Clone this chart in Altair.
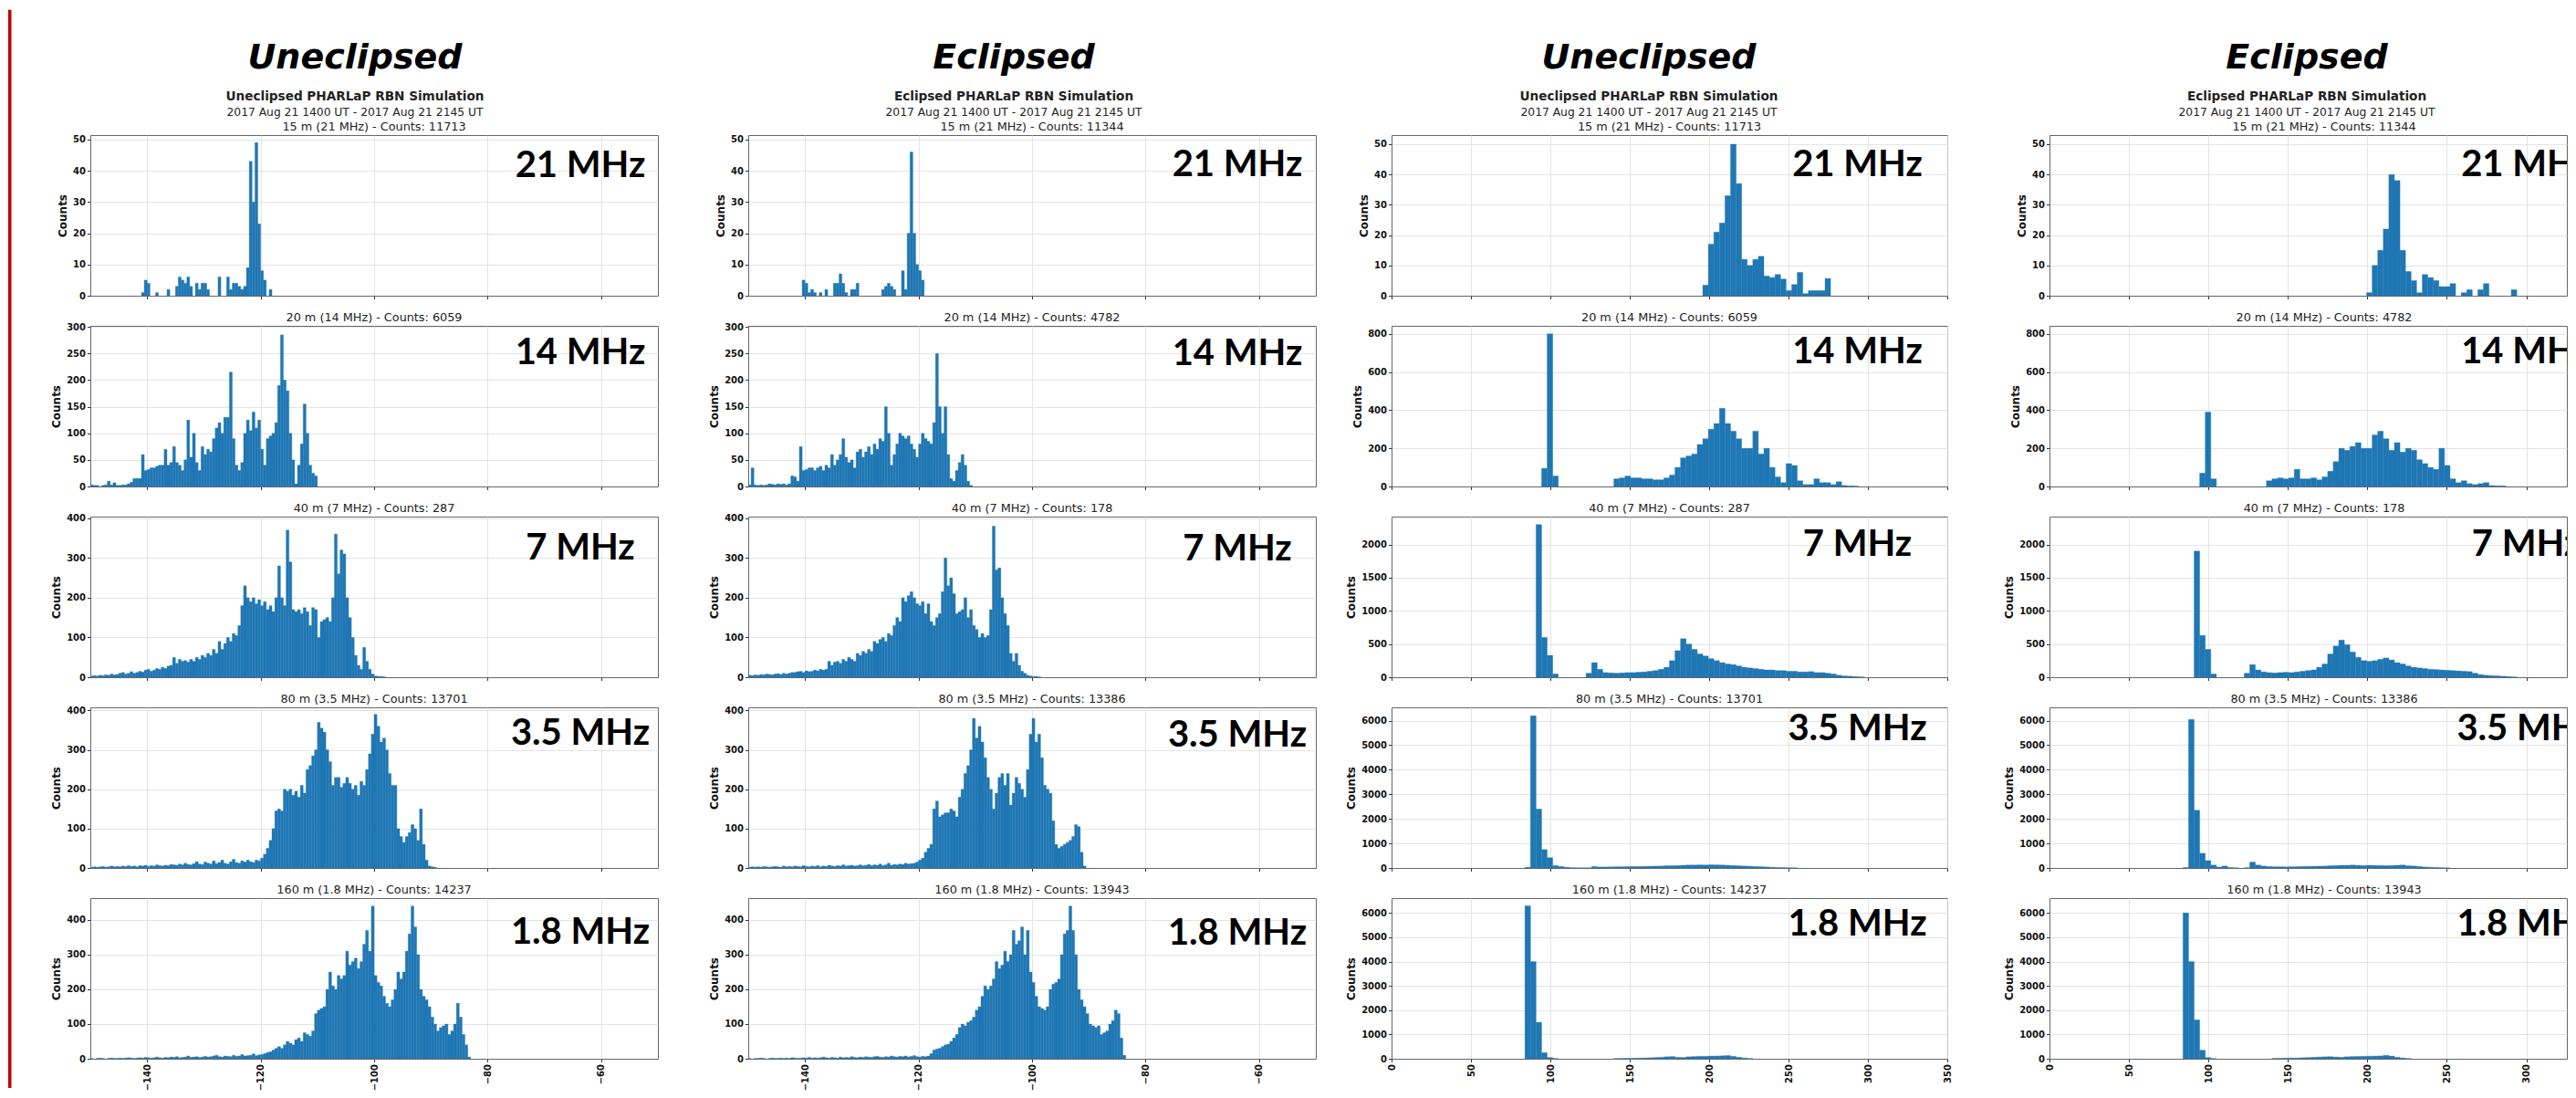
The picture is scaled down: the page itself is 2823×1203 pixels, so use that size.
import altair as alt
import pandas as pd

BLUE = "#1f77b4"
FONT = "DejaVu Sans"
HEAD_FONT = "DejaVu Sans"
LABEL_FONT = "Lato"

# ---------------- text data ----------------
BANDS = ["21 MHz", "14 MHz", "7 MHz", "3.5 MHz", "1.8 MHz"]
BAND_METERS = ["15 m", "20 m", "40 m", "80 m", "160 m"]
COUNTS_UNECL = [11713, 6059, 287, 13701, 14237]
COUNTS_ECL = [11344, 4782, 178, 13386, 13943]
DATE_LINE = "2017 Aug 21 1400 UT - 2017 Aug 21 2145 UT"

# ---------------- received power histograms (0.5 dB bins) ----------------
POWER_BIN = 0.5
POWER_TICKS = [-140, -120, -100, -80, -60]
POWER_DOMAIN = [-150, -50]

pu21_start = -141.0
pu21 = [1, 5, 4, 0, 0, 1, 0, 0, 0, 2, 0, 0, 3, 6, 5, 4, 6, 3, 0, 4, 2, 4, 4, 2, 0, 0, 0, 6, 0, 0,
        6, 2, 4, 4, 3, 2, 3, 9, 43, 30, 49, 23, 8, 5, 0, 2]
pu14_start = -150.0
pu14 = [3, 2, 2, 0, 2, 3, 10, 3, 7, 2, 2, 3, 3, 5, 8, 15, 15, 15, 60, 30, 32, 35, 35, 38, 40, 40, 70, 40,
        45, 75, 45, 40, 30, 50, 125, 55, 100, 45, 30, 75, 60, 70, 65, 90, 110, 120, 100, 130, 130, 215,
        90, 40, 30, 45, 100, 125, 105, 140, 110, 125, 70, 40, 90, 95, 100, 120, 190, 285, 200, 180, 100,
        50, 5, 40, 80, 155, 100, 40, 25, 20]
pu7_start = -150.0
pu7 = [3, 4, 3, 5, 4, 6, 5, 8, 6, 7, 10, 12, 8, 10, 14, 10, 12, 15, 13, 18, 20, 15, 18, 22, 20, 25, 22,
       28, 30, 50, 35, 45, 40, 42, 38, 45, 40, 50, 45, 55, 50, 60, 55, 70, 60, 90, 70, 85, 100, 90, 110,
       105, 130, 180, 230, 200, 190, 200, 185, 195, 180, 190, 170, 180, 165, 200, 280, 200, 180, 370, 290,
       170, 165, 170, 160, 175, 165, 130, 175, 170, 100, 140, 145, 150, 140, 200, 360, 260, 320, 310, 200,
       150, 100, 55, 30, 20, 75, 40, 20, 8, 3, 2, 2, 1]
pu3_start = -150.0
pu3 = [2, 3, 2, 3, 4, 2, 3, 5, 3, 4, 3, 5, 4, 6, 4, 5, 3, 6, 5, 7, 4, 6, 5, 8, 6, 5, 7, 6, 9, 8, 7, 10, 8,
       12, 9, 8, 11, 16, 10, 9, 15, 12, 10, 18, 11, 14, 20, 12, 10, 16, 22, 14, 12, 18, 15, 20, 16, 14, 20,
       18, 25,
       35, 50, 70, 100, 145, 150, 145, 200, 195, 200, 185, 195, 180, 210, 190, 250, 260, 285, 300, 370,
       355, 345, 300, 270, 210, 230, 230, 205, 215, 230, 215, 200, 210, 185, 220, 210, 250, 290, 340, 390,
       360, 320, 330, 300, 240, 210, 210, 100, 80, 65, 80, 90, 110, 100, 70, 150, 60, 20, 5, 3, 2]
pu18_start = -150.0
pu18 = [1, 0, 1, 2, 1, 0, 1, 2, 1, 1, 2, 1, 2, 3, 2, 1, 2, 3, 2, 4, 3, 2, 3, 5, 3, 2, 4, 3, 5, 4, 6, 3, 4,
        5, 8, 4, 5, 6, 4, 5, 7, 5, 6, 8, 10, 6, 5, 8, 7, 6, 10, 7, 8, 12, 8, 9, 10, 14, 9, 11, 12, 15, 18,
        20, 25, 30, 35, 30, 40, 50, 45, 40, 55, 60, 50, 75, 70, 65, 80, 130, 140, 145, 150, 200, 250, 210,
        200, 240, 230, 240, 310, 270, 280, 290, 260, 280, 330, 370, 310, 440, 240, 220, 210, 180, 160, 150,
        170, 200, 250, 230, 250, 310, 360, 440, 380, 300, 200, 180, 170, 150, 120, 100, 80, 90, 95, 100, 70,
        80, 100, 160, 120, 70, 40, 5]

pe21_start = -140.5
pe21 = [5, 4, 1, 2, 1, 0, 1, 0, 2, 0, 0, 4, 4, 7, 4, 1, 0, 2, 2, 4, 0, 0, 0, 0, 0, 0, 0, 0, 2, 3, 4, 3, 2,
        0, 0, 8, 2, 20, 46, 20, 10, 8, 5]
pe14_start = -150.0
pe14 = [3, 35, 3, 2, 3, 2, 3, 5, 4, 3, 5, 4, 5, 3, 5, 20, 18, 10, 75, 30, 32, 35, 35, 30, 35, 38, 30, 40,
        35, 60, 40, 50, 60, 90, 55, 45, 50, 35, 65, 70, 55, 65, 75, 60, 80, 70, 90, 85, 150, 100, 40, 60, 80,
        100, 95, 90, 95, 80, 70, 55, 80, 100, 90, 85, 80, 120, 250, 150, 100, 150, 60, 15, 10, 30, 45, 60,
        40, 10, 2]
pe7_start = -150.0
pe7 = [5, 4, 6, 5, 7, 6, 8, 7, 6, 8, 9, 7, 10, 8, 10, 12, 12, 14, 15, 12, 16, 14, 15, 18, 16, 20, 18, 20,
       40, 30, 38, 40, 35, 45, 40, 50, 45, 40, 60, 55, 65, 60, 70, 65, 90, 85, 95, 100, 90, 110, 105, 130,
       150, 140, 200, 190, 205, 215, 200, 185, 180, 190, 160, 185, 140, 130, 150, 160, 215, 300, 230, 250,
       210, 160, 165, 170, 200, 150, 170, 130, 120, 100, 110, 100, 105, 170, 380, 270, 275, 200, 160, 130,
       60, 40, 60, 30, 15, 10, 5, 3, 2, 2, 1]
pe3_start = -150.0
pe3 = [2, 3, 2, 3, 2, 4, 3, 2, 3, 4, 3, 2, 5, 3, 4, 3, 5, 4, 3, 6, 4, 3, 5, 4, 6, 3, 5, 4, 7, 5, 4, 6, 5,
       8, 5, 6, 7, 5, 6, 8, 6, 7, 9, 6, 8, 7, 10, 6, 8, 12, 7, 9, 8, 10, 9, 12, 10, 11,
       12, 15, 20, 25, 40, 50, 60, 150, 170, 130, 135, 140, 140, 150, 145, 130, 180, 200, 240, 260, 300,
       380, 330, 360, 320, 280, 230, 200, 150, 190, 230, 240, 210, 240, 160, 190, 230, 215, 200, 180, 250,
       340, 380, 320, 340, 280, 210, 200, 190, 120, 60, 50, 55, 60, 65, 70, 80, 110, 105, 40, 5]
pe18_start = -150.0
pe18 = [1, 0, 1, 1, 2, 1, 0, 1, 2, 1, 1, 2, 1, 2, 1, 3, 2, 1, 2, 3, 2, 4, 2, 3, 2, 3, 5, 3, 2, 4, 3, 2, 5,
        3, 4, 3, 6, 4, 3, 5, 4, 6, 5, 4, 6, 7, 5, 4, 6, 5, 8, 6, 5, 7, 6, 8, 5, 7, 9, 6, 5, 7, 6,
        8, 15, 25, 28, 30, 35, 40, 42, 50, 60, 70, 90, 100, 95, 105, 110, 120, 140, 150, 180, 210, 200, 210,
        230, 280, 260, 270, 310, 280, 300, 370, 330, 340, 380, 300, 370, 250, 220, 180, 150, 145, 140, 150,
        200, 215, 220, 230, 300, 360, 370, 440, 370, 300, 200, 170, 150, 130, 100, 95, 90, 95, 70, 75, 80,
        100, 110, 140, 130, 60, 10]

# ---------------- reflection height histograms (3.5 km bins) ----------------
HEIGHT_BIN = 3.5
HEIGHT_TICKS_FULL = [0, 50, 100, 150, 200, 250, 300, 350]
HEIGHT_TICKS_CUT = [0, 50, 100, 150, 200, 250, 300]

hu21_start = 196.0
hu21 = [3.5, 17, 21, 24, 33, 50, 37, 12, 10, 12, 13, 6.5, 6, 7, 5.5, 1.7, 3.7, 7.7, 0.7, 1.7, 1.7, 1.7, 5.7]
hu14_start = 94.5
hu14 = [95, 800, 55, 0, 0, 0, 0, 0, 0, 0, 0, 0, 0,
        40, 45, 55, 45, 45, 40, 40, 35, 35, 45, 60, 100, 150, 160, 170, 220, 250, 300, 330, 410, 330, 290,
        250, 200, 200, 290, 170, 200, 100, 50, 20, 120, 110, 30, 10, 10, 40, 20, 20, 10, 25, 5, 3, 2]
hu7_start = 91.0
hu7 = [2300, 600, 330, 50, 0, 0, 0, 0, 0,
       60, 220, 120, 70, 65, 60, 65, 70, 70, 75, 80, 90, 100, 120, 150, 250, 400, 580, 500, 420, 350, 320,
       280, 250, 220, 200, 190, 170, 150, 140, 130, 120, 110, 110, 100, 100, 90, 90, 80, 80, 85, 70, 70, 60,
       50, 30, 20, 15, 10, 5]
hu3_start = 84.0
hu3 = [30, 6200, 2400, 750, 420, 100, 60, 30, 10, 5, 5, 5, 60, 40, 40, 45, 50, 50, 55, 60, 60, 65, 70, 75,
       80, 90, 95, 100, 110, 120, 120, 125, 120, 130, 125, 120, 110, 100, 90, 80, 70, 60, 50, 40, 30, 20,
       15, 10, 5]
hu18_start = 84.0
hu18 = [6300, 4000, 1500, 250, 50, 10, 0, 0, 0, 0, 0, 0, 0, 0, 0, 0,
        10, 15, 20, 20, 25, 30, 40, 50, 60, 80, 90, 60, 50, 80, 90, 100, 100, 110, 110, 120, 130, 100, 60,
        30, 10]

he21_start = 199.5
he21 = [1, 10, 15, 22, 40, 38, 15, 8, 5, 1, 7, 6, 5, 3, 3, 4, 0, 1, 2, 0, 2, 4, 0, 0, 0, 0, 2]
he14_start = 94.5
he14 = [70, 390, 40, 0, 0, 0, 0, 0, 0, 0, 0, 0,
        30, 40, 45, 40, 45, 90, 40, 40, 45, 35, 50, 80, 130, 200, 190, 210, 230, 200, 200, 270, 290, 250,
        190, 230, 180, 200, 190, 140, 120, 100, 90, 200, 110, 40, 20, 30, 15, 10, 15, 20, 5, 3, 3]
he7_start = 91.0
he7 = [1900, 630, 420, 50, 0, 0, 0, 0, 0,
       60, 190, 110, 80, 70, 65, 70, 75, 70, 80, 90, 100, 110, 150, 200, 350, 470, 560, 490, 380, 300, 250,
       240, 250, 270, 290, 260, 220, 200, 170, 150, 140, 130, 120, 115, 110, 105, 100, 95, 90, 85, 60, 40,
       30, 25, 20, 15, 10, 5]
he3_start = 84.0
he3 = [20, 6050, 2350, 600, 300, 120, 40, 80, 20, 5, 0, 10, 240, 120, 80, 60, 50, 50, 45, 50, 55, 60, 65,
       70, 75, 80, 90, 100, 110, 110, 120, 110, 100, 110, 105, 100, 95, 100, 110, 120, 90, 80, 60, 40, 30,
       20, 10, 5]
he18_start = 84.0
he18 = [6000, 4000, 1600, 350, 50, 10, 0, 0, 0, 0, 0, 0, 0, 0, 0, 0,
        15, 20, 25, 30, 30, 40, 50, 60, 70, 80, 85, 70, 60, 80, 90, 95, 100, 105, 110, 115, 140, 110, 60,
        30, 10]

# y axis ranges / ticks per row
POWER_YDOM = [51.4, 302, 404, 408, 463]
POWER_YTICKS = [[0, 10, 20, 30, 40, 50], [0, 50, 100, 150, 200, 250, 300], [0, 100, 200, 300, 400],
                [0, 100, 200, 300, 400], [0, 100, 200, 300, 400]]
HEIGHT_YDOM = [53, 842, 2420, 6540, 6615]
HEIGHT_YTICKS = [[0, 10, 20, 30, 40, 50], [0, 200, 400, 600, 800], [0, 500, 1000, 1500, 2000],
                 [0, 1000, 2000, 3000, 4000, 5000, 6000], [0, 1000, 2000, 3000, 4000, 5000, 6000]]

SERIES = {
    "pu": [(pu21_start, pu21), (pu14_start, pu14), (pu7_start, pu7), (pu3_start, pu3), (pu18_start, pu18)],
    "pe": [(pe21_start, pe21), (pe14_start, pe14), (pe7_start, pe7), (pe3_start, pe3), (pe18_start, pe18)],
    "hu": [(hu21_start, hu21), (hu14_start, hu14), (hu7_start, hu7), (hu3_start, hu3), (hu18_start, hu18)],
    "he": [(he21_start, he21), (he14_start, he14), (he7_start, he7), (he3_start, he3), (he18_start, he18)],
}

PANEL_H = 176


def hist_df(start, width, counts):
    rows = []
    for i, c in enumerate(counts):
        if c > 0:
            lo = start + i * width
            rows.append({"lo": lo, "hi": lo + width, "n": c, "base": 0})
    return pd.DataFrame(rows)


COLS = [
    dict(key="pu", bin=POWER_BIN, xdom=POWER_DOMAIN, xticks=POWER_TICKS, ydom=POWER_YDOM, yticks=POWER_YTICKS,
         width=622, header="Uneclipsed", sup="Uneclipsed PHARLaP RBN Simulation", counts=COUNTS_UNECL,
         head_x=290, title_x=311, mhz_x=537, mhz_y=[46, 42, 47, 41, 50], red=True),
    dict(key="pe", bin=POWER_BIN, xdom=POWER_DOMAIN, xticks=POWER_TICKS, ydom=POWER_YDOM, yticks=POWER_YTICKS,
         width=622, header="Eclipsed", sup="Eclipsed PHARLaP RBN Simulation", counts=COUNTS_ECL,
         head_x=291, title_x=311, mhz_x=536, mhz_y=[45, 43, 48, 43, 51], red=False),
    dict(key="hu", bin=HEIGHT_BIN, xdom=[0, 350], xticks=HEIGHT_TICKS_FULL, ydom=HEIGHT_YDOM,
         yticks=HEIGHT_YTICKS, width=609, header="Uneclipsed", sup="Uneclipsed PHARLaP RBN Simulation",
         counts=COUNTS_UNECL, head_x=282, title_x=304.5, mhz_x=510.5, mhz_y=[45, 41, 43, 36, 41], red=False),
    dict(key="he", bin=HEIGHT_BIN, xdom=[0, 325.5], xticks=HEIGHT_TICKS_CUT, ydom=HEIGHT_YDOM,
         yticks=HEIGHT_YTICKS, width=567, header="Eclipsed", sup="Eclipsed PHARLaP RBN Simulation",
         counts=COUNTS_ECL, head_x=282, title_x=301, mhz_x=522.5, mhz_y=[45, 41, 43, 36, 41], red=False),
]
GAPS = [99, 82.5, 111.5]


def text_layer(txt, x, y, font, size, weight="normal", style="normal", clip=False, color="#111111"):
    return alt.Chart(pd.DataFrame({"t": [txt]})).mark_text(
        font=font, fontSize=size, fontWeight=weight, fontStyle=style, align="center",
        baseline="alphabetic", color=color, clip=clip,
    ).encode(text="t:N", x=alt.value(x), y=alt.value(y))


def panel(col, r):
    start, counts = SERIES[col["key"]][r]
    df = hist_df(start, col["bin"], counts)
    bottom = r == 4
    xaxis = alt.Axis(values=col["xticks"], format="d", title=None, labels=bottom, labelAngle=270,
                     ticks=True, grid=True)
    yaxis = alt.Axis(values=col["yticks"][r], format="d", title="Counts", grid=True)
    bars = alt.Chart(df).mark_bar(color=BLUE, stroke=BLUE, strokeWidth=0.35, clip=True).encode(
        x=alt.X("lo:Q", scale=alt.Scale(domain=col["xdom"], nice=False, zero=False), axis=xaxis),
        x2="hi:Q",
        y=alt.Y("n:Q", scale=alt.Scale(domain=[0, col["ydom"][r]], nice=False, zero=True), axis=yaxis),
        y2="base:Q",
    )
    layers = [bars]
    layers.append(text_layer(BANDS[r], col["mhz_x"], col["mhz_y"][r], LABEL_FONT, 40, weight="bold",
                             clip=True, color="#000000"))
    ttl = f"{BAND_METERS[r]} ({BANDS[r]}) - Counts: {col['counts'][r]}"
    layers.append(text_layer(ttl, col["title_x"], -5.5 if r == 0 else -4.7, FONT, 12.8, color="#222222"))
    if r == 0:
        layers.append(text_layer(col["header"], col["head_x"], -73, HEAD_FONT, 38, weight="bold",
                                 style="italic", color="#000000"))
        layers.append(text_layer(col["sup"], col["head_x"], -38, FONT, 13.6, weight="bold", color="#222222"))
        layers.append(text_layer(DATE_LINE, col["head_x"], -21.5, FONT, 12.3, color="#222222"))
    if col["red"]:
        y1 = -137.25 if r == 0 else 0
        y2 = 208 if r == 4 else 209
        layers.append(
            alt.Chart(pd.DataFrame({"a": [0]})).mark_rule(color="#c00000", strokeWidth=3.5).encode(
                x=alt.value(-88.25), y=alt.value(y1), y2=alt.value(y2))
        )
    return alt.layer(*layers).properties(width=col["width"], height=PANEL_H)


def blank(w):
    return alt.Chart(pd.DataFrame({"v": [0]})).mark_point(opacity=0).encode(
        x=alt.X("v:Q", axis=None), y=alt.Y("v:Q", axis=None)
    ).properties(width=w, height=PANEL_H, view=alt.ViewBackground(stroke="transparent"))


cells = []
for r in range(5):
    for ci, col in enumerate(COLS):
        cells.append(panel(col, r))
        if ci < 3:
            cells.append(blank(GAPS[ci]))

chart = alt.concat(*cells, columns=7, spacing={"row": 33, "column": 0}, bounds="flush").properties(
    padding={"left": 0, "top": 0, "right": 0, "bottom": 0}
).configure_view(stroke="#666666", strokeWidth=1).configure_axis(
    labelFont=FONT, labelFontWeight="bold", labelFontSize=10, labelColor="#111111",
    titleFont=FONT, titleFontWeight="bold", titleFontSize=12, titleColor="#111111",
    tickColor="#333333", tickSize=3.5, domainColor="#666666", gridColor="#dddddd", gridWidth=0.8,
    labelPadding=2, titlePadding=4, labelFlush=False, labelOverlap=False,
)

chart.save("out.html", embed_options={"renderer": "svg", "actions": False})
